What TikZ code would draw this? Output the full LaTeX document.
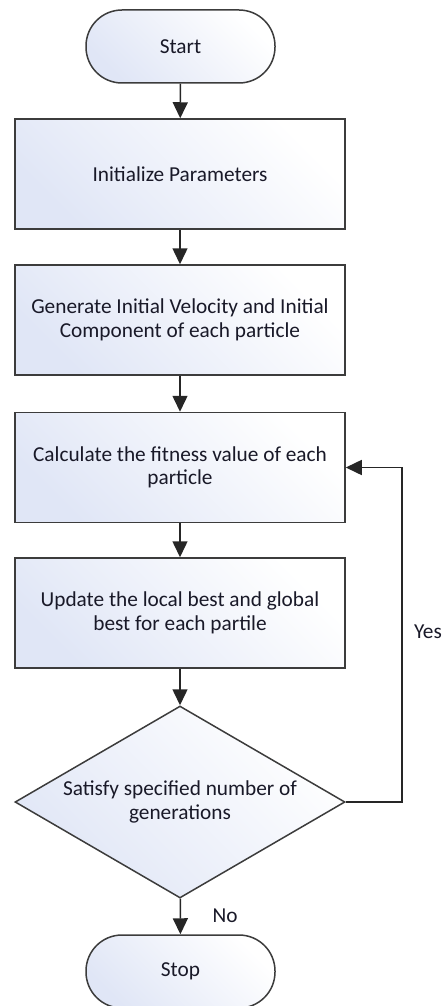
\documentclass[tikz,border=0pt]{standalone}
\usepackage{fontspec}
\setmainfont{Carlito}
\usetikzlibrary{shapes.geometric,arrows.meta}
\definecolor{fillc}{RGB}{224,230,246}
\definecolor{linec}{RGB}{60,60,60}
\definecolor{txtc}{RGB}{25,25,40}
\begin{document}
\begin{tikzpicture}[x=1pt,y=-1pt,
  every node/.style={font=\fontsize{21.3}{23.5}\selectfont, text=txtc},
  shadefill/.style={top color=fillc, bottom color=white, shading angle=135},
  box/.style={draw=linec, line width=1.5pt, rectangle, shadefill,
    minimum width=330pt, minimum height=110pt, align=center, inner sep=0pt},
  term/.style={draw=linec, line width=1.5pt, rectangle, rounded corners=36pt, shadefill,
    minimum width=189pt, minimum height=73pt, inner sep=0pt},
  dec/.style={draw=linec, line width=1.5pt, diamond, aspect=1.72, shadefill,
    minimum width=330pt, minimum height=192pt, align=center, inner sep=0pt},
  arr/.style={draw=black!85, line width=1.5pt, -{Triangle[width=15pt,length=16pt]}},
  lbl/.style={inner sep=0pt}]
\useasboundingbox (0,0) rectangle (446,1006);
\node[term] (start) at (180.5,46.5) {Start};
\node[box] (init) at (180,174) {Initialize Parameters};
\node[box] (gen) at (180,320) {Generate Initial Velocity and Initial\\Component of each particle};
\node[box] (calc) at (180,467.5) {Calculate the fitness value of each\\particle};
\node[box] (upd) at (180,613) {Update the local best and global\\best for each partile};
\node[dec] (dec) at (180,802) {Satisfy specified number of\\generations};
\node[term] (stop) at (180.5,971.5) {Stop};
\coordinate (loop) at (402,802);
\draw[arr] (start) -- (init);
\draw[arr] (init) -- (gen);
\draw[arr] (gen) -- (calc);
\draw[arr] (calc) -- (upd);
\draw[arr] (upd) -- (dec);
\draw[arr] (dec) -- (stop);
\draw[arr] (dec.east) -- (loop) |- (calc.east);
\node[lbl] (yes) at (428,632) {Yes};
\node[lbl] (no) at (225,916) {No};
\end{tikzpicture}
\end{document}
